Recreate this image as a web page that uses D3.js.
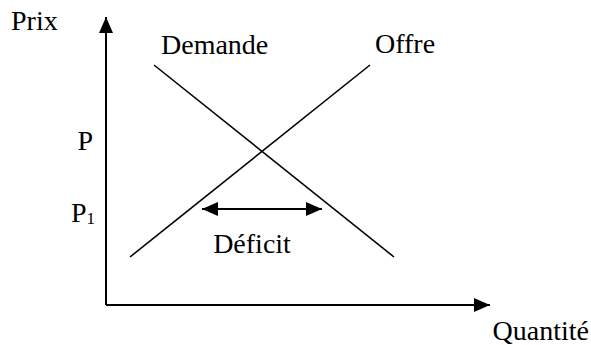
<!DOCTYPE html>
<html>
<head>
<meta charset="utf-8">
<script src="https://cdn.jsdelivr.net/npm/d3@7"></script>
<style>
  body { margin: 0; background: #fff; }
  text { font-family: "Liberation Serif", "Times New Roman", serif; font-size: 28px; fill: #000; }
</style>
</head>
<body>
<svg width="591" height="345"></svg>
<script>
// courbes (quantité, prix)
var demande = [[2, 10], [12, 2]];
var offre = [[1, 2], [11, 10]];
// prix plafond et déficit
var prixP1 = 4;
var deficit = [4, 9];
var prixEq = 6.4;
var axisLabels = ["Prix", "Quantité"];

var svg = d3.select("svg"),
  width = +svg.attr("width"),
  height = +svg.attr("height");

var x = d3.scaleLinear().domain([0, 16]).range([106, 490]);
var y = d3.scaleLinear().domain([0, 12]).range([305, 17]);

var defs = svg.append("defs");
defs.append("marker")
  .attr("id", "head")
  .attr("viewBox", "0 0 16 14")
  .attr("refX", 16)
  .attr("refY", 7)
  .attr("markerWidth", 16)
  .attr("markerHeight", 14)
  .attr("markerUnits", "userSpaceOnUse")
  .attr("orient", "auto-start-reverse")
  .append("path")
  .attr("d", "M0,0L16,7L0,14Z")
  .attr("fill", "#000");

var line = d3.line()
  .x(function (d) { return x(d[0]); })
  .y(function (d) { return y(d[1]); });

// axes
svg.append("path")
  .attr("d", line([[0, 0], [0, 12]]))
  .attr("stroke", "#000")
  .attr("stroke-width", 2)
  .attr("fill", "none")
  .attr("marker-end", "url(#head)");

svg.append("path")
  .attr("d", line([[0, 0], [16, 0]]))
  .attr("stroke", "#000")
  .attr("stroke-width", 2)
  .attr("fill", "none")
  .attr("marker-end", "url(#head)");

// courbes
[demande, offre].forEach(function (c) {
  svg.append("path")
    .attr("d", line(c))
    .attr("stroke", "#000")
    .attr("stroke-width", 1.6)
    .attr("fill", "none");
});

// flèche déficit
svg.append("path")
  .attr("d", line([[deficit[0], prixP1], [deficit[1], prixP1]]))
  .attr("stroke", "#000")
  .attr("stroke-width", 2)
  .attr("fill", "none")
  .attr("marker-start", "url(#head)")
  .attr("marker-end", "url(#head)");

// textes
svg.append("text").attr("x", 11).attr("y", 30).text(axisLabels[0]);
svg.append("text").attr("x", 589).attr("y", 340).attr("text-anchor", "end").text(axisLabels[1]);

svg.append("text")
  .attr("x", x(demande[0][0]) + 7)
  .attr("y", y(demande[0][1]) - 11)
  .text("Demande");

svg.append("text")
  .attr("x", x(offre[1][0]) + 5)
  .attr("y", y(offre[1][1]) - 12)
  .text("Offre");

svg.append("text")
  .attr("x", (x(deficit[0]) + x(deficit[1])) / 2 - 10)
  .attr("y", y(prixP1) + 44)
  .attr("text-anchor", "middle")
  .text("Déficit");

svg.append("text")
  .attr("x", 93)
  .attr("y", y(prixEq) - 1)
  .attr("text-anchor", "end")
  .text("P");

var p1 = svg.append("text")
  .attr("x", 71)
  .attr("y", y(prixP1) + 13);
p1.append("tspan").text("P");
p1.append("tspan").attr("dy", 2).style("font-size", "17px").text("1");
</script>
</body>
</html>
